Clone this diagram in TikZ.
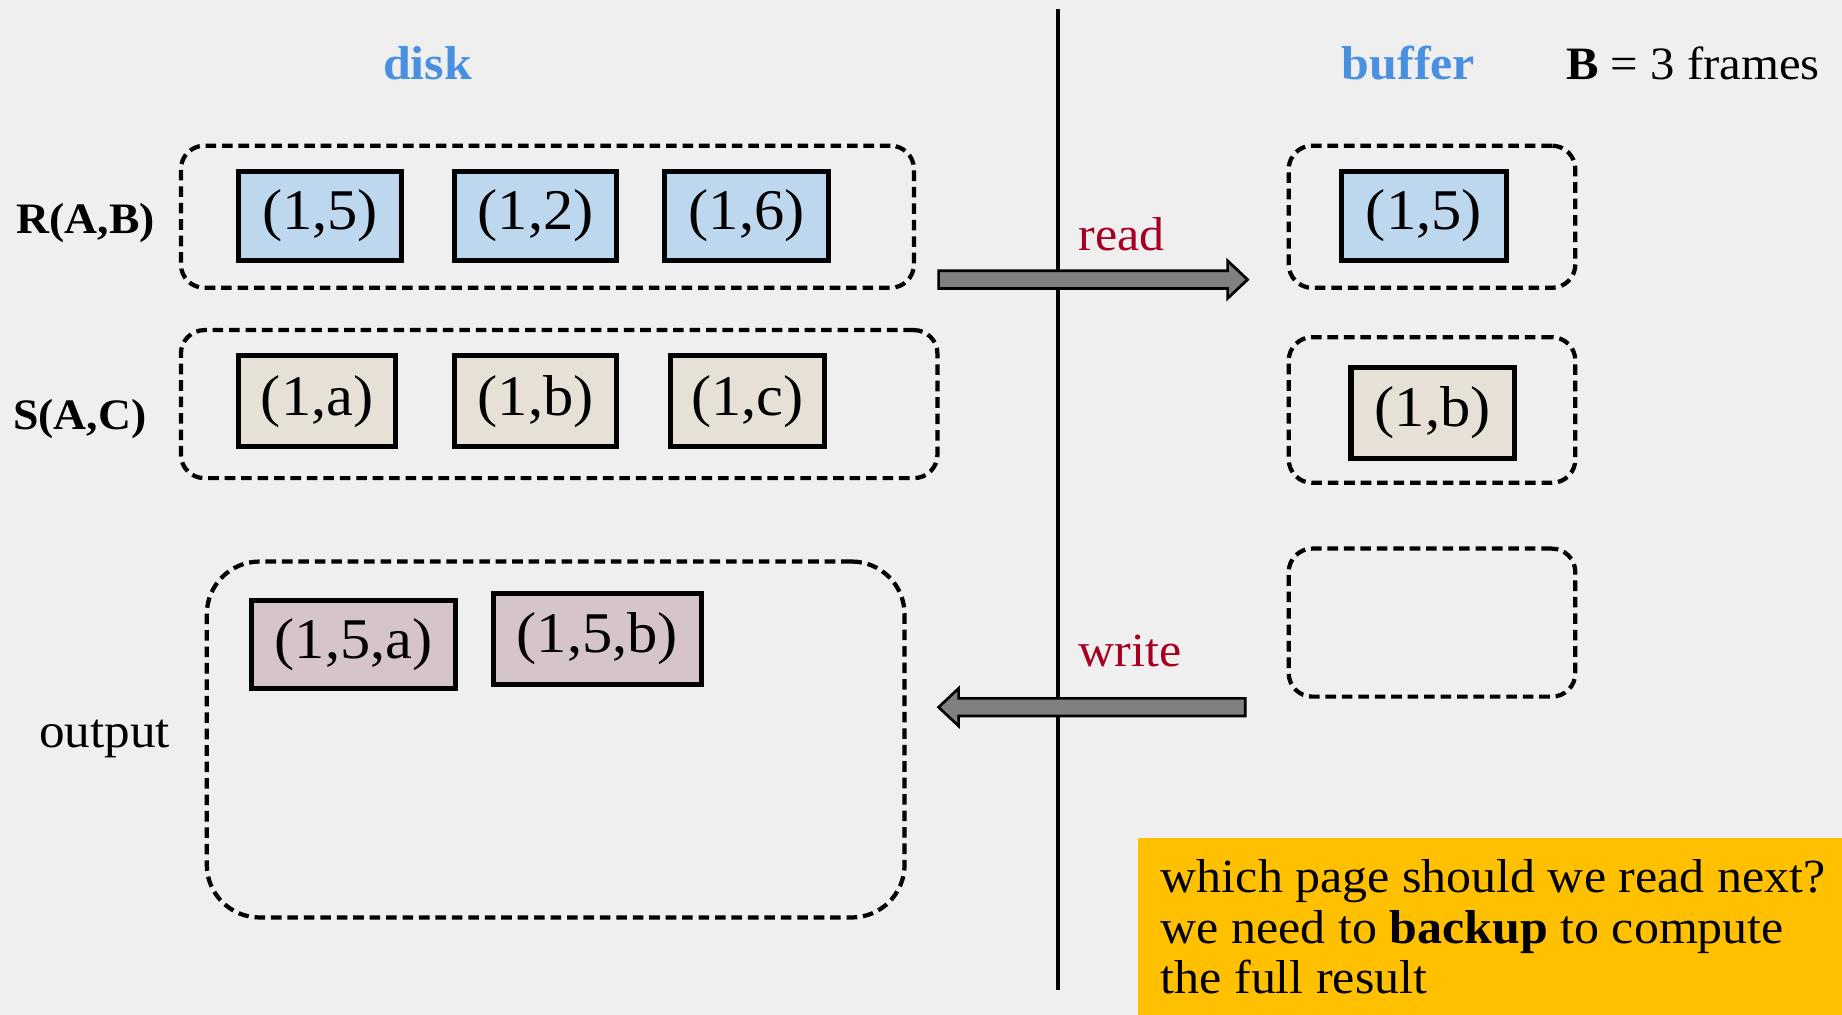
\documentclass[tikz,border=0pt]{standalone}
\usepackage{fontspec}
\setmainfont{Liberation Serif}[FakeStretch=1.05]
\usetikzlibrary{calc}

\definecolor{bg}{RGB}{239,239,239}
\definecolor{titleblue}{RGB}{74,144,224}
\definecolor{opred}{RGB}{165,0,33}
\definecolor{rfill}{RGB}{189,215,238}
\definecolor{sfill}{RGB}{230,224,215}
\definecolor{ofill}{RGB}{213,196,201}
\definecolor{arrowgray}{RGB}{128,128,128}
\definecolor{note}{RGB}{255,192,0}

\newcommand{\fs}[1]{\fontsize{#1}{#1}\selectfont}

\tikzset{
  container/.style={draw, dashed, dash pattern=on 9pt off 5pt, line width=3.6pt,
    rounded corners=20pt, inner sep=0pt},
  tuple/.style={draw, line width=4.3pt, inner sep=0pt, font=\fs{49}},
  rtuple/.style={tuple, fill=rfill, minimum height=76pt},
  stuple/.style={tuple, fill=sfill, minimum height=77pt},
  otuple/.style={tuple, fill=ofill},
  title/.style={font=\bfseries\fs{40.5}, text=titleblue, inner sep=0pt, anchor=base},
  relname/.style={font=\bfseries\fs{37}, inner sep=0pt, anchor=base},
  oplabel/.style={font=\fs{40.5}, text=opred, inner sep=0pt, anchor=base west},
  notetext/.style={font=\fs{40.5}, inner sep=0pt, anchor=base west},
  blockarrow/.style={fill=arrowgray, draw=black, line width=2.3pt, line join=miter},
}

\begin{document}
\begin{tikzpicture}[x=1pt, y=-1pt]
  % canvas
  \fill[bg] (0,0) rectangle (1568,864);
  \useasboundingbox (0,0) rectangle (1568,864);

  % divider between disk and buffer
  \coordinate (divT) at (901,8);
  \coordinate (divB) at (901,843);
  \draw[line width=3.4pt] (divT) -- (divB);

  % headings
  \node[title] (disk) at (364,68) {disk};
  \node[title] (buffer) at (1199,68) {buffer};
  \node[font=\fs{39.5}, inner sep=0pt, anchor=base west] (frames) at (1333,68) {\textbf{B} = 3 frames};

  % relation R on disk
  \node[relname] (rname) at (73,199) {R(A,B)};
  \node[container, minimum width=624pt, minimum height=121pt] (rdisk) at (466,184.5) {};
  \node[rtuple, minimum width=139pt] (r1) at (272.5,184) {(1,5)};
  \node[rtuple, minimum width=138pt] (r2) at (456,184) {(1,2)};
  \node[rtuple, minimum width=139pt] (r3) at (635.5,184) {(1,6)};

  % relation S on disk
  \node[relname] (sname) at (68,366) {S(A,C)};
  \node[container, minimum width=644pt, minimum height=126pt] (sdisk) at (476,344) {};
  \node[stuple, minimum width=134pt] (s1) at (270,341.5) {(1,a)};
  \node[stuple, minimum width=138pt] (s2) at (456,341.5) {(1,b)};
  \node[stuple, minimum width=131pt] (s3) at (636.5,341.5) {(1,c)};

  % output on disk
  \node[font=\fs{41.5}, inner sep=0pt, anchor=base] (oname) at (89,636) {output};
  \node[container, rounded corners=45pt, minimum width=594pt, minimum height=303pt] (odisk) at (473,629.5) {};
  \node[otuple, minimum width=174pt, minimum height=75pt] (o1) at (301,548.5) {(1,5,a)};
  \node[otuple, minimum width=177pt, minimum height=78pt] (o2) at (508.5,544) {(1,5,b)};

  % buffer frames
  \node[container, minimum width=244pt, minimum height=121pt] (f1) at (1219,184.5) {};
  \node[container, minimum width=244pt, minimum height=124pt] (f2) at (1219,349) {};
  \node[container, minimum width=244pt, minimum height=126pt] (f3) at (1219,530) {};
  \node[rtuple, minimum width=140pt] (b1) at (1212,184) {(1,5)};
  \node[stuple, minimum width=139pt] (b2) at (1219.5,351.5) {(1,b)};

  % read: disk -> buffer
  \coordinate (rdS) at (799,238);
  \coordinate (rdE) at (1062,238);
  \draw[blockarrow] ($(rdS)+(0,-7.5)$) -- ($(rdE)+(-17,-7.5)$) -- ($(rdE)+(-17,-16)$)
    -- (rdE) -- ($(rdE)+(-17,16)$) -- ($(rdE)+(-17,7.5)$) -- ($(rdS)+(0,7.5)$) -- cycle;
  \node[oplabel] (readlbl) at (918,213) {read};

  % write: buffer -> disk
  \coordinate (wrS) at (1060,602);
  \coordinate (wrE) at (799,602);
  \draw[blockarrow] ($(wrS)+(0,-7.5)$) -- ($(wrE)+(17,-7.5)$) -- ($(wrE)+(17,-16)$)
    -- (wrE) -- ($(wrE)+(17,16)$) -- ($(wrE)+(17,7.5)$) -- ($(wrS)+(0,7.5)$) -- cycle;
  \node[oplabel] (writelbl) at (918,567) {write};

  % note
  \fill[note] (969,713) rectangle (1568,864);
  \node[notetext] (q1) at (988,760) {which page should we read next?};
  \node[notetext] (q2) at (988,803) {we need to \textbf{backup} to compute};
  \node[notetext] (q3) at (988,846) {the full result};
\end{tikzpicture}
\end{document}
